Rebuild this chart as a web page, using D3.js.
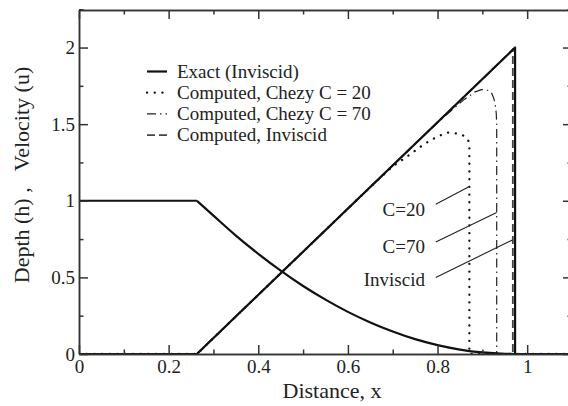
<!DOCTYPE html>
<html>
<head>
<meta charset="utf-8">
<script src="https://cdn.jsdelivr.net/npm/d3@7"></script>
<style>
  body { margin: 0; background: #fff; }
  svg { display: block; }
  text { font-family: "Liberation Serif", "Times New Roman", serif; fill: #222; }
</style>
</head>
<body>
<svg id="chart" width="568" height="406"></svg>
<script>
// exact solution, depth h (flat part up to x = 0.263, then the curve)
var xDepth = [0, 0.263, 0.3, 0.35, 0.4, 0.45, 0.5, 0.55, 0.6, 0.65, 0.7, 0.75, 0.8, 0.85, 0.9, 0.95, 0.973, 1.1];
var hExact = [1, 1, 0.903, 0.773, 0.654, 0.544, 0.444, 0.355, 0.275, 0.206, 0.147, 0.097, 0.058, 0.029, 0.010, 0.001, 0, 0];

// exact solution, velocity u
var xVelExact = [0, 0.263, 0.973, 0.973, 1.1];
var uExact = [0, 0, 2.0, 0, 0];

// computed, Chezy C = 20
var xC20 = [0, 0.263, 0.5, 0.6, 0.65, 0.7, 0.74, 0.77, 0.80, 0.823, 0.84, 0.855, 0.864, 0.869, 0.871, 0.871, 1.1];
var uC20 = [0, 0, 0.668, 0.949, 1.09, 1.225, 1.305, 1.37, 1.42, 1.445, 1.44, 1.43, 1.415, 1.39, 1.35, 0, 0];

// computed, Chezy C = 70
var xC70 = [0, 0.263, 0.5, 0.6, 0.7, 0.8, 0.835, 0.858, 0.884, 0.898, 0.906, 0.915, 0.921, 0.926, 0.929, 0.931, 0.932, 0.932, 1.1];
var uC70 = [0, 0, 0.668, 0.949, 1.23, 1.51, 1.60, 1.657, 1.711, 1.725, 1.727, 1.718, 1.70, 1.665, 1.62, 1.57, 1.50, 0, 0];

// computed, inviscid
var xInv = [0, 0.263, 0.966, 0.968, 0.968, 1.1];
var uInv = [0, 0, 1.98, 1.99, 0, 0];

var xTicks = [0, 0.2, 0.4, 0.6, 0.8, 1];
var xTickLabels = ["0", "0.2", "0.4", "0.6", "0.8", "1"];
var yTicks = [0, 0.5, 1, 1.5, 2];
var yTickLabels = ["0", "0.5", "1", "1.5", "2"];

var legendNames = ["Exact (Inviscid)", "Computed, Chezy C = 20", "Computed, Chezy C = 70", "Computed, Inviscid"];
var annoNames = ["C=20", "C=70", "Inviscid"];
// label anchor (x, y) and pointer end (x, y), in data units
var annoLabel = [[0.772, 0.939], [0.772, 0.70], [0.772, 0.483]];
var annoFrom = [[0.796, 0.978], [0.796, 0.731], [0.796, 0.50]];
var annoTo = [[0.870, 1.091], [0.932, 0.924], [0.967, 0.744]];

var padLeft = 79, padTop = 10, padRight = 572, padBottom = 354;
var svg = d3.select("#chart");

var x = d3.scaleLinear().domain([0, 1.1]).range([padLeft, padRight]);
var y = d3.scaleLinear().domain([0, 2.245]).range([padBottom, padTop]);

var styles = [
    {dash: null, width: 2.2, color: "#111", cap: "butt"},
    {dash: "0.1,7.6", width: 2.3, color: "#111", cap: "round"},
    {dash: "9,4,1.5,4", width: 1.2, color: "#222", cap: "butt"},
    {dash: "8,4", width: 1.8, color: "#444", cap: "butt"}
];

function pairs(xs, ys) { return xs.map(function(v, i) { return [v, ys[i]]; }); }

var line = d3.line().x(function(d) { return x(d[0]); }).y(function(d) { return y(d[1]); });
var smooth = d3.line().x(function(d) { return x(d[0]); }).y(function(d) { return y(d[1]); })
    .curve(d3.curveMonotoneX);

svg.append("clipPath").attr("id", "plotclip").append("rect")
    .attr("x", padLeft).attr("y", padTop).attr("width", padRight - padLeft).attr("height", padBottom - padTop);

var plot = svg.append("g").attr("clip-path", "url(#plotclip)");

function drawCurve(data, gen, s) {
    plot.append("path")
        .attr("d", gen(data))
        .attr("fill", "none")
        .attr("stroke", s.color)
        .attr("stroke-width", s.width)
        .attr("stroke-dasharray", s.dash)
        .attr("stroke-linecap", s.cap)
        .attr("stroke-linejoin", "round");
}

drawCurve(pairs(xInv, uInv), line, styles[3]);
drawCurve(pairs(xC70, uC70), line, styles[2]);
drawCurve(pairs(xC20, uC20), line, styles[1]);
var depth = pairs(xDepth, hExact);
drawCurve(depth.slice(0, 2), line, styles[0]);
drawCurve(depth.slice(1), smooth, styles[0]);
drawCurve(pairs(xVelExact, uExact), line, styles[0]);

// annotations
annoNames.forEach(function(name, i) {
    svg.append("line")
        .attr("x1", x(annoFrom[i][0])).attr("y1", y(annoFrom[i][1]))
        .attr("x2", x(annoTo[i][0])).attr("y2", y(annoTo[i][1]))
        .attr("stroke", "#222").attr("stroke-width", 1.1);
    svg.append("text")
        .attr("x", x(annoLabel[i][0])).attr("y", y(annoLabel[i][1]))
        .attr("dy", "0.33em")
        .attr("text-anchor", "end")
        .style("font-size", "19px")
        .text(name);
});

// axes, ticks pointing inward
function styleAxis(g) {
    g.select(".domain").attr("stroke", "#333").attr("stroke-width", 1.5);
    g.selectAll(".tick line").attr("stroke", "#333").attr("stroke-width", 1.5);
    g.selectAll(".tick text").style("font-size", "19px").attr("fill", "#222");
}

var xMinor = [0.1, 0.3, 0.5, 0.7, 0.9, 1.1];
var yMinor = [0.25, 0.75, 1.25, 1.75, 2.25];

svg.append("g").attr("transform", "translate(0," + padBottom + ")")
    .call(d3.axisBottom(x).tickValues(xTicks).tickFormat(function(d, i) { return xTickLabels[i]; })
        .tickSizeInner(-9).tickSizeOuter(0).tickPadding(6))
    .call(styleAxis);
svg.append("g").attr("transform", "translate(0," + padBottom + ")")
    .call(d3.axisBottom(x).tickValues(xMinor).tickFormat("").tickSizeInner(-4.5).tickSizeOuter(0))
    .call(styleAxis);
svg.append("g").attr("transform", "translate(0," + padTop + ")")
    .call(d3.axisTop(x).tickValues(xTicks).tickFormat("").tickSizeInner(-9).tickSizeOuter(0))
    .call(styleAxis);
svg.append("g").attr("transform", "translate(0," + padTop + ")")
    .call(d3.axisTop(x).tickValues(xMinor).tickFormat("").tickSizeInner(-4.5).tickSizeOuter(0))
    .call(styleAxis);

svg.append("g").attr("transform", "translate(" + padLeft + ",0)")
    .call(d3.axisLeft(y).tickValues(yTicks).tickFormat(function(d, i) { return yTickLabels[i]; })
        .tickSizeInner(-9).tickSizeOuter(0).tickPadding(4))
    .call(styleAxis);
svg.append("g").attr("transform", "translate(" + padLeft + ",0)")
    .call(d3.axisLeft(y).tickValues(yMinor).tickFormat("").tickSizeInner(-4.5).tickSizeOuter(0))
    .call(styleAxis);
svg.append("g").attr("transform", "translate(" + padRight + ",0)")
    .call(d3.axisRight(y).tickValues(yTicks).tickFormat("").tickSizeInner(-9).tickSizeOuter(0))
    .call(styleAxis);
svg.append("g").attr("transform", "translate(" + padRight + ",0)")
    .call(d3.axisRight(y).tickValues(yMinor).tickFormat("").tickSizeInner(-4.5).tickSizeOuter(0))
    .call(styleAxis);

// axis titles
svg.append("text")
    .attr("x", 332).attr("y", 398)
    .attr("text-anchor", "middle")
    .style("font-size", "22px")
    .text("Distance, x");

svg.append("text")
    .attr("transform", "translate(29,175) rotate(-90)")
    .attr("text-anchor", "middle")
    .style("font-size", "22px")
    .style("white-space", "pre")
    .text("Depth (h) ,   Velocity (u)");

// legend
var legend = svg.append("g");
legendNames.forEach(function(name, i) {
    var cy = 71.5 + i * 21.2;
    var s = styles[i];
    legend.append("line")
        .attr("x1", 147).attr("x2", 167).attr("y1", cy).attr("y2", cy)
        .attr("stroke", s.color).attr("stroke-width", s.width)
        .attr("stroke-dasharray", s.dash).attr("stroke-linecap", s.cap);
    legend.append("text")
        .attr("x", 177).attr("y", cy).attr("dy", "0.33em")
        .style("font-size", "19px")
        .text(name);
});
</script>
</body>
</html>
